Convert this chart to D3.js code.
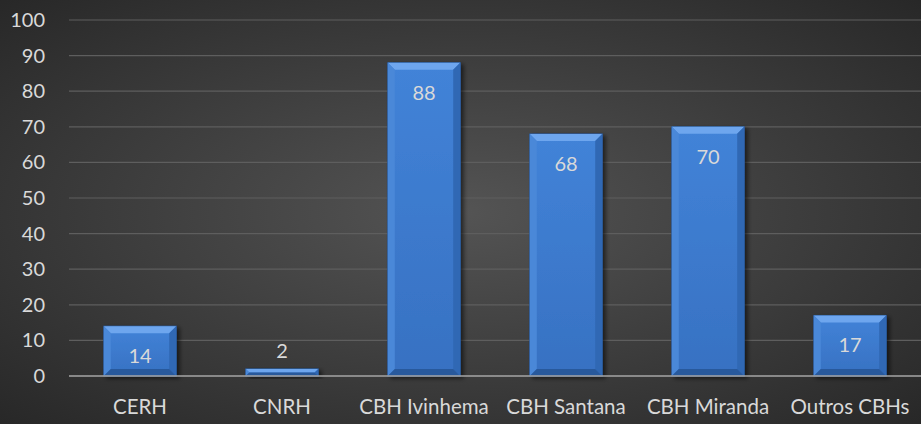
<!DOCTYPE html>
<html lang="pt">
<head>
  <meta charset="UTF-8">
  <title>Participação em colegiados</title>
  <style>
    body { margin: 0; background: #333; }
    svg text { font-family: Lato, "Open Sans", sans-serif; fill: #d9d9d9; }
  </style>
</head>
<body>
  <svg id="chart"></svg>

  <script src="https://cdn.jsdelivr.net/npm/d3@7"></script>
  <script>
    const categories = ["CERH", "CNRH", "CBH Ivinhema", "CBH Santana", "CBH Miranda", "Outros CBHs"];
    const values = [14, 2, 88, 68, 70, 17];
    const yTicks = [0, 10, 20, 30, 40, 50, 60, 70, 80, 90, 100];

    const W = 921, H = 424;
    const margin = { top: 20, right: 0, bottom: 48, left: 69 };

    const svg = d3.select("#chart")
      .attr("width", W)
      .attr("height", H);

    const defs = svg.append("defs");
    const bg = defs.append("radialGradient")
      .attr("id", "bg")
      .attr("cx", "50%").attr("cy", "50%").attr("r", "75%");
    bg.append("stop").attr("offset", "0%").attr("stop-color", "#545454");
    bg.append("stop").attr("offset", "100%").attr("stop-color", "#252525");

    const shadow = defs.append("filter").attr("id", "shadow")
      .attr("x", "-20%").attr("y", "-20%").attr("width", "150%").attr("height", "150%");
    shadow.append("feDropShadow")
      .attr("dx", 3).attr("dy", 2).attr("stdDeviation", 2)
      .attr("flood-color", "#000").attr("flood-opacity", 0.55);

    const barGrad = defs.append("linearGradient")
      .attr("id", "barfill").attr("x1", 0).attr("x2", 0).attr("y1", 0).attr("y2", 1);
    barGrad.append("stop").attr("offset", "0%").attr("stop-color", "#4283d8");
    barGrad.append("stop").attr("offset", "100%").attr("stop-color", "#3771c2");

    svg.append("rect").attr("width", W).attr("height", H).attr("fill", "url(#bg)");

    const x = d3.scaleBand()
      .domain(categories)
      .range([margin.left, W - margin.right])
      .paddingInner(0.49)
      .paddingOuter(0.245);

    const y = d3.scaleLinear()
      .domain([0, 100])
      .range([H - margin.bottom, margin.top]);

    // grid
    svg.append("g")
      .selectAll("line")
      .data(yTicks.filter(d => d > 0))
      .join("line")
      .attr("x1", margin.left).attr("x2", W - margin.right)
      .attr("y1", d => y(d)).attr("y2", d => y(d))
      .attr("stroke", "#5e5e5e").attr("stroke-width", 1.2);

    // y axis labels
    const yAxis = d3.axisLeft(y).tickValues(yTicks).tickSize(0).tickPadding(24);
    svg.append("g")
      .attr("transform", `translate(${margin.left},0)`)
      .call(yAxis)
      .call(g => g.select(".domain").remove())
      .selectAll("text")
      .attr("font-size", 20)
      .attr("font-family", "Lato, 'Open Sans', sans-serif")
      .attr("fill", "#d9d9d9");

    // bars with bevel
    const bw = x.bandwidth();
    const bev = 7;
    const bars = svg.append("g").selectAll("g")
      .data(values)
      .join("g")
      .attr("transform", (d, i) => `translate(${x(categories[i])},${y(d)})`);

    bars.append("rect")
      .attr("width", bw)
      .attr("height", d => y(0) - y(d))
      .attr("fill", "url(#barfill)")
      .attr("stroke", "#2a5a9c")
      .attr("stroke-width", 1)
      .attr("filter", "url(#shadow)");

    bars.each(function (d) {
      const h = y(0) - y(d);
      const b = Math.min(bev, h / 2);
      const g = d3.select(this);
      g.append("polygon")
        .attr("points", `0,0 ${bw},0 ${bw - b},${b} ${b},${b}`)
        .attr("fill", "#6ea6ee");
      g.append("polygon")
        .attr("points", `0,0 ${b},${b} ${b},${h - b} 0,${h}`)
        .attr("fill", "#4a88d8");
      g.append("polygon")
        .attr("points", `${bw},0 ${bw},${h} ${bw - b},${h - b} ${bw - b},${b}`)
        .attr("fill", "#3068b4");
      g.append("polygon")
        .attr("points", `0,${h} ${b},${h - b} ${bw - b},${h - b} ${bw},${h}`)
        .attr("fill", "#28599c");
    });

    // value labels
    bars.append("text")
      .attr("x", bw / 2)
      .attr("y", d => (y(0) - y(d)) > 40 ? 29 : -19)
      .attr("text-anchor", "middle")
      .attr("dominant-baseline", "central")
      .attr("font-size", 20)
      .text(d => d);

    // baseline
    svg.append("line")
      .attr("x1", margin.left).attr("x2", W - margin.right)
      .attr("y1", y(0)).attr("y2", y(0))
      .attr("stroke", "#a6a6a6").attr("stroke-width", 1.5);

    // category labels
    const xAxis = d3.axisBottom(x).tickSize(0).tickPadding(23);
    svg.append("g")
      .attr("transform", `translate(0,${y(0)})`)
      .call(xAxis)
      .call(g => g.select(".domain").remove())
      .selectAll("text")
      .attr("font-size", 20.5)
      .attr("font-family", "Lato, 'Open Sans', sans-serif")
      .attr("fill", "#d9d9d9");
  </script>
</body>
</html>
